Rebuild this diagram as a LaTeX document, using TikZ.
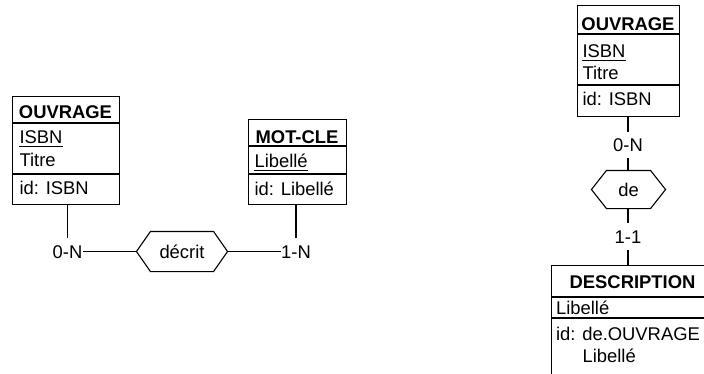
\documentclass[tikz,border=0pt]{standalone}
\usepackage{fontspec}
\setmainfont{Liberation Sans}
\newcommand\hexagonpath[2]{\draw (#1.west) -- ([xshift=#2]#1.north west) -- ([xshift=-#2]#1.north east) -- (#1.east) -- ([xshift=-#2]#1.south east) -- ([xshift=#2]#1.south west) -- cycle;}
\tikzset{
  fnt/.style={font=\fontsize{18.4pt}{22pt}\selectfont},
  entbox/.style={draw, inner sep=0pt, anchor=north west},
  ttl/.style={font=\fontsize{18.4pt}{22pt}\selectfont\bfseries, inner sep=0pt, anchor=base},
  att/.style={fnt, inner sep=0pt, anchor=base west},
  uatt/.style={att, text depth=2.6pt},
  uline/.style={line width=1pt},
  card/.style={fnt, inner xsep=0pt, inner ysep=6pt, text height=13.2pt, text depth=0pt},
  relnode/.style={fnt, inner sep=0pt},
}
\begin{document}
\begin{tikzpicture}[x=1pt,y=-1pt,line width=1.1pt]
\useasboundingbox (0,0) rectangle (704,373);
\clip (0,0) rectangle (704,373);

% ---- left OUVRAGE
\node[entbox, minimum width=107pt, minimum height=108pt] (ouv1) at (12,96) {};
\draw (12,123) -- (119,123);
\draw (12,174) -- (119,174);
\node[ttl] (ouv1t) at (65.5,118.6) {OUVRAGE};
\node[uatt] (ouv1a) at (19,143.6) {ISBN};
\draw[uline] (ouv1a.south west) -- (ouv1a.south east);
\node[att] (ouv1b) at (19,166.6) {Titre};
\node[att] (ouv1c) at (19,194.6) {id: ISBN};

% ---- MOT-CLE
\node[entbox, minimum width=98pt, minimum height=85pt] (mot) at (248,119) {};
\draw (248,146) -- (346,146);
\draw (248,174) -- (346,174);
\node[ttl] (mott) at (297,143.6) {MOT-CLE};
\node[uatt] (mota) at (254,167.6) {Libellé};
\draw[uline] (mota.south west) -- (mota.south east);
\node[att] (motb) at (254,195) {id: Libellé};

% ---- relation decrit
\node[relnode, minimum width=90pt, minimum height=39pt] (decrit) at (182,251.5) {décrit};
\hexagonpath{decrit}{14pt}
\node[card] (c1) at (67.5,251.5) {0-N};
\node[card] (c2) at (296,251.5) {1-N};
\draw (c1.north |- ouv1.south) -- (c1.north);
\draw (c1.east) -- (decrit.west);
\draw (decrit.east) -- (c2.west);
\draw (c2.north) -- (c2.north |- mot.south);

% ---- right OUVRAGE
\node[entbox, minimum width=102pt, minimum height=111pt] (ouv2) at (577,5) {};
\draw (577,34) -- (679,34);
\draw (577,85) -- (679,85);
\node[ttl] (ouv2t) at (628,30) {OUVRAGE};
\node[uatt] (ouv2a) at (582,57) {ISBN};
\draw[uline] (ouv2a.south west) -- (ouv2a.south east);
\node[att] (ouv2b) at (582,79.5) {Titre};
\node[att] (ouv2c) at (582,105.3) {id: ISBN};

% ---- relation de
\node[relnode, minimum width=73pt, minimum height=37pt] (de) at (628.5,189.5) {de};
\hexagonpath{de}{15pt}
\node[card] (c3) at (628,145) {0-N};
\node[card] (c4) at (628,236.5) {1-1};

% ---- DESCRIPTION
\node[entbox, minimum width=163pt, minimum height=140pt] (desc) at (551,265) {};
\draw (551,297) -- (714,297);
\draw (551,318) -- (714,318);
\node[ttl] (desct) at (632.5,288) {DESCRIPTION};
\node[att] (desca) at (555.5,314) {Libellé};
\node[att] (descb) at (555.5,340) {id: de.OUVRAGE};
\node[att] (descc) at (582,362) {Libellé};

\draw (c3.north |- ouv2.south) -- (c3.north);
\draw (c3.south) -- (c3.south |- de.north);
\draw (c4.north |- de.south) -- (c4.north);
\draw (c4.south) -- (c4.south |- desc.north);
\end{tikzpicture}
\end{document}
